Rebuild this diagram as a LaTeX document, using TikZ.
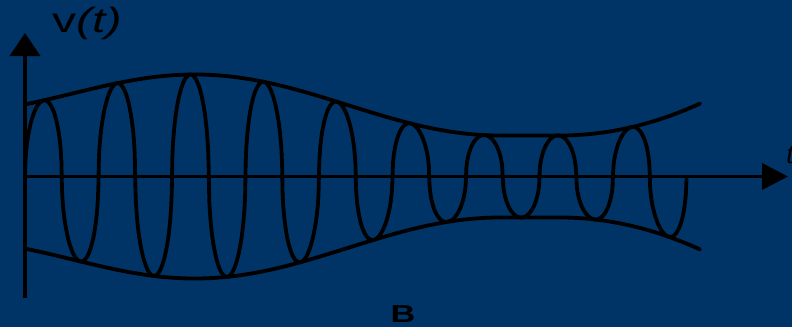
\documentclass[tikz,border=0pt]{standalone}
\usepackage{fontspec}
\setmainfont{Liberation Sans}
\newfontfamily\tserif{Liberation Serif}
\usetikzlibrary{arrows.meta}
\definecolor{bgblue}{RGB}{0,51,102}
\pgfmathdeclarefunction{envA}{1}{%
  \pgfmathparse{ifthenelse(#1<195, 64+19*(1-cos(180/245*(#1+50))),
    ifthenelse(#1<500, 41+30.5*(1+cos(180/305*(#1-195))),
    ifthenelse(#1<560, 41, 41+16.3*((#1-560)/100)^2)))}%
}
% elliptic carrier: half-ellipse lobes, period 73.5
\pgfmathdeclarefunction{lobe}{1}{%
  \pgfmathsetmacro\uu{mod(#1-25,73.5)/36.75}%
  \pgfmathsetmacro\ff{floor(\uu)}%
  \pgfmathsetmacro\ww{\uu-\ff}%
  \pgfmathparse{(1-2*\ff)*2*sqrt(max(\ww*(1-\ww),0))}%
}
\tikzset{
  axisline/.style={line width=3.9pt, black},
  curveline/.style={line width=3.8pt, black, line join=round, line cap=round},
  lbl/.style={inner sep=0pt, outer sep=0pt, text=black}
}
\begin{document}
\begin{tikzpicture}[x=1pt,y=-1pt]
\useasboundingbox (0,0) rectangle (792,327);
\fill[bgblue] (0,0) rectangle (792,327);
\clip (0,0) rectangle (792,327);
% named points
\coordinate (O) at (25,176.5);
\coordinate (ybot) at (25,298);
\coordinate (ytop) at (25,33);
\coordinate (xend) at (788,176.5);
% envelopes
\draw[curveline] plot[domain=25:700, samples=200] (\x, {176.5 - envA(\x)});
\draw[curveline] plot[domain=25:700, samples=200] (\x, {176.5 + envA(\x)});
% modulated wave
\draw[curveline] plot[domain=25:686.5, samples=1200] (\x, {176.5 - envA(\x)*lobe(\x)});
% axes
\draw[axisline, -{Triangle[length=26pt,width=26pt]}] (O) -- (xend);
\draw[axisline, -{Triangle[length=23pt,width=30pt]}] (ybot) -- (ytop);
% labels
\node[lbl, anchor=base west] (vlab) at (52,32) {\scalebox{1.38}[1]{\fontsize{35}{40}\selectfont v\textit{(t)}}};
\node[lbl, anchor=base] (blab) at (403,322) {\scalebox{1.4}[1]{\fontsize{24.5}{28}\selectfont\bfseries B}};
\node[lbl, anchor=base west] (tlab) at (786,163) {\fontsize{30}{34}\selectfont\tserif\itshape t};
\end{tikzpicture}
\end{document}
